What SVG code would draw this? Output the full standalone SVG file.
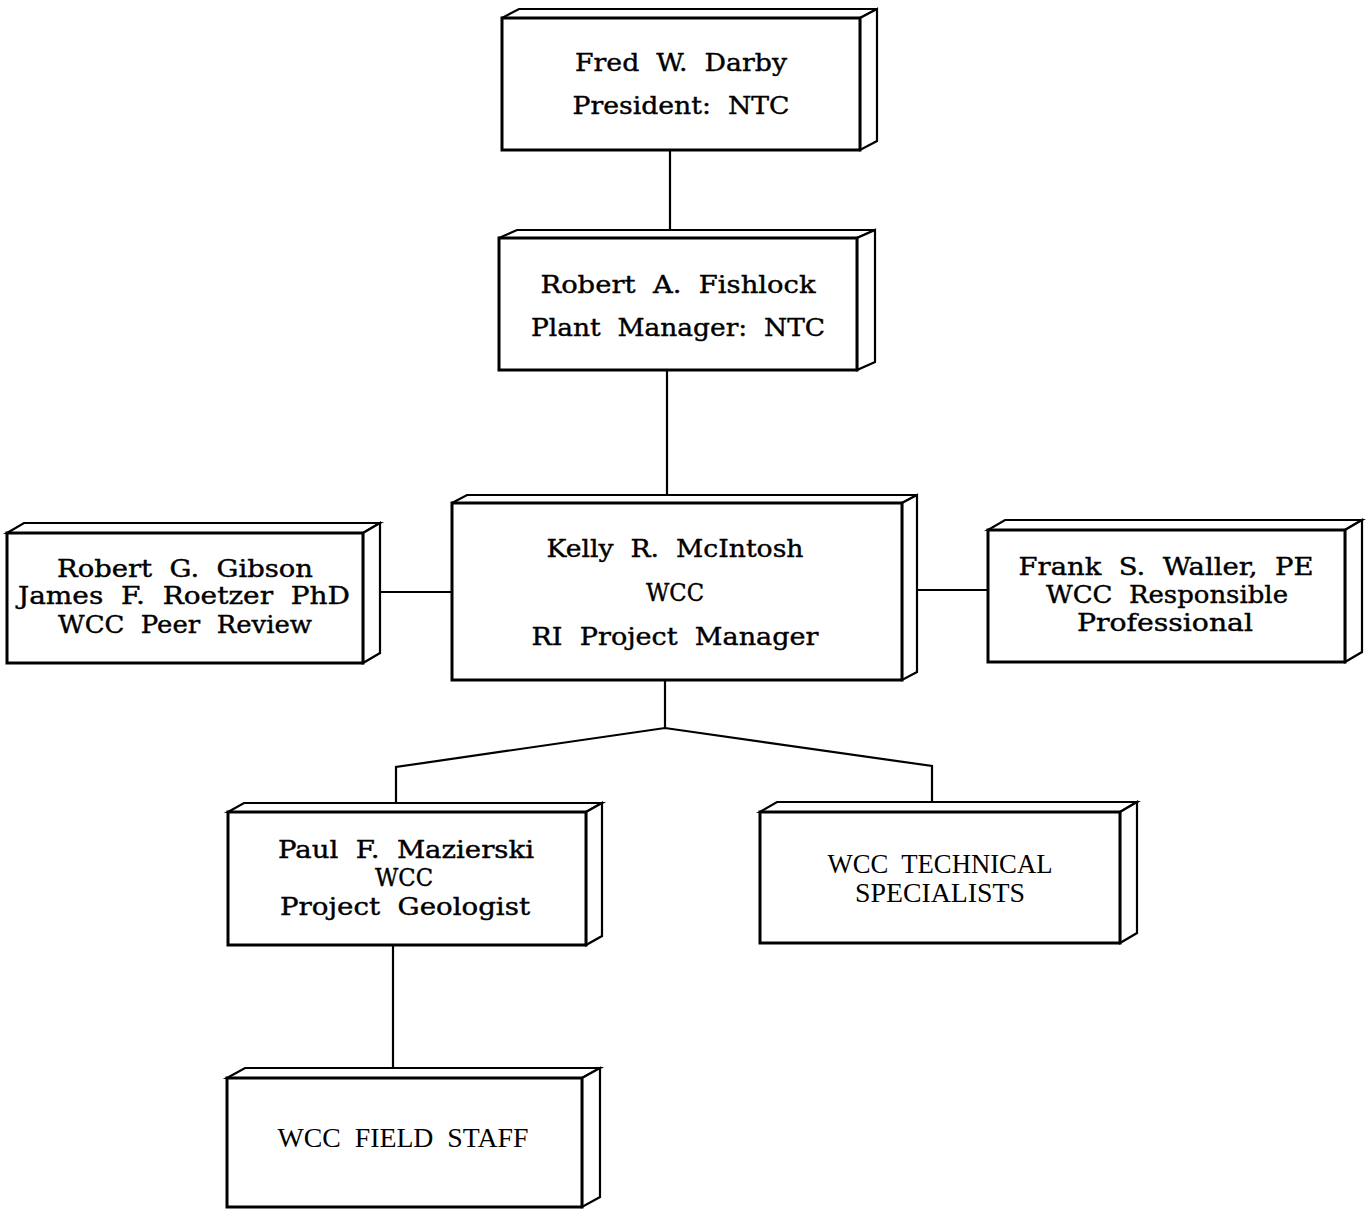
<svg xmlns="http://www.w3.org/2000/svg" width="1369" height="1210" viewBox="0 0 1369 1210">
<style>
.f{fill:#fff;stroke:#000;stroke-width:3;stroke-linejoin:miter}
.s{fill:#fff;stroke:#000;stroke-width:2.2}
.c{fill:none;stroke:#000;stroke-width:2.2}
text{font-family:"DejaVu Serif","Liberation Serif",serif;font-size:24px;text-anchor:middle;fill:#000;stroke:#000;stroke-width:0.4;white-space:pre}
text.n{stroke:none;font-family:"Liberation Serif","DejaVu Serif",serif;font-size:27px}
</style>
<rect width="1369" height="1210" fill="#fff"/>
<g id="connectors">
<line class="c" x1="670" y1="150" x2="670" y2="230"/>
<line class="c" x1="667" y1="370" x2="667" y2="496"/>
<line class="c" x1="372" y1="592" x2="452" y2="592"/>
<line class="c" x1="908" y1="590" x2="988" y2="590"/>
<polyline class="c" points="396,806 396,767 665,728 932,766 932,803"/>
<line class="c" x1="665" y1="680" x2="665" y2="728"/>
<line class="c" x1="393" y1="945" x2="393" y2="1069"/>
</g>
<g id="fred">
<polygon class="s" points="502,18 519,9 877,9 860,18"/>
<polygon class="s" points="860,18 877,9 877,141 860,150"/>
<rect class="f" x="502" y="18" width="358" height="132"/>
<text x="681" y="71" textLength="212" lengthAdjust="spacingAndGlyphs">Fred  W.  Darby</text>
<text x="681" y="114" textLength="217" lengthAdjust="spacingAndGlyphs">President:  NTC</text>
</g>
<g id="fishlock">
<polygon class="s" points="499,238 517,230 875,230 857,238"/>
<polygon class="s" points="857,238 875,230 875,362 857,370"/>
<rect class="f" x="499" y="238" width="358" height="132"/>
<text x="678" y="293" textLength="275" lengthAdjust="spacingAndGlyphs">Robert  A.  Fishlock</text>
<text x="678" y="336" textLength="294" lengthAdjust="spacingAndGlyphs">Plant  Manager:  NTC</text>
</g>
<g id="mcintosh">
<polygon class="s" points="452,503 467,495 917,495 902,503"/>
<polygon class="s" points="902,503 917,495 917,672 902,680"/>
<rect class="f" x="452" y="503" width="450" height="177"/>
<text x="675" y="557" textLength="257" lengthAdjust="spacingAndGlyphs">Kelly  R.  McIntosh</text>
<text x="675" y="601" textLength="58" lengthAdjust="spacingAndGlyphs">WCC</text>
<text x="675" y="645" textLength="287" lengthAdjust="spacingAndGlyphs">RI  Project  Manager</text>
</g>
<g id="gibson">
<polygon class="s" points="7,533 24,523 380,523 363,533"/>
<polygon class="s" points="363,533 380,523 380,653 363,663"/>
<rect class="f" x="7" y="533" width="356" height="130"/>
<text x="185" y="577" textLength="256" lengthAdjust="spacingAndGlyphs">Robert  G.  Gibson</text>
<text x="184" y="604" textLength="332" lengthAdjust="spacingAndGlyphs">James  F.  Roetzer  PhD</text>
<text x="185" y="633" textLength="254" lengthAdjust="spacingAndGlyphs">WCC  Peer  Review</text>
</g>
<g id="waller">
<polygon class="s" points="988,530 1005,520 1362,520 1345,530"/>
<polygon class="s" points="1345,530 1362,520 1362,652 1345,662"/>
<rect class="f" x="988" y="530" width="357" height="132"/>
<text x="1166" y="575" textLength="295" lengthAdjust="spacingAndGlyphs">Frank  S.  Waller,  PE</text>
<text x="1167" y="603" textLength="242" lengthAdjust="spacingAndGlyphs">WCC  Responsible</text>
<text x="1165" y="631" textLength="176" lengthAdjust="spacingAndGlyphs">Professional</text>
</g>
<g id="mazierski">
<polygon class="s" points="228,812 244,803 602,803 586,812"/>
<polygon class="s" points="586,812 602,803 602,936 586,945"/>
<rect class="f" x="228" y="812" width="358" height="133"/>
<text x="406" y="858" textLength="256" lengthAdjust="spacingAndGlyphs">Paul  F.  Mazierski</text>
<text x="404" y="886" textLength="58" lengthAdjust="spacingAndGlyphs">WCC</text>
<text x="405" y="915" textLength="250" lengthAdjust="spacingAndGlyphs">Project  Geologist</text>
</g>
<g id="technical">
<polygon class="s" points="760,812 777,802 1137,802 1120,812"/>
<polygon class="s" points="1120,812 1137,802 1137,933 1120,943"/>
<rect class="f" x="760" y="812" width="360" height="131"/>
<text class="n" x="940" y="873" textLength="225" lengthAdjust="spacingAndGlyphs">WCC  TECHNICAL</text>
<text class="n" x="940" y="902" textLength="170" lengthAdjust="spacingAndGlyphs">SPECIALISTS</text>
</g>
<g id="fieldstaff">
<polygon class="s" points="227,1078 245,1068 600,1068 582,1078"/>
<polygon class="s" points="582,1078 600,1068 600,1197 582,1207"/>
<rect class="f" x="227" y="1078" width="355" height="129"/>
<text class="n" x="403" y="1147" textLength="251" lengthAdjust="spacingAndGlyphs">WCC  FIELD  STAFF</text>
</g>
</svg>
